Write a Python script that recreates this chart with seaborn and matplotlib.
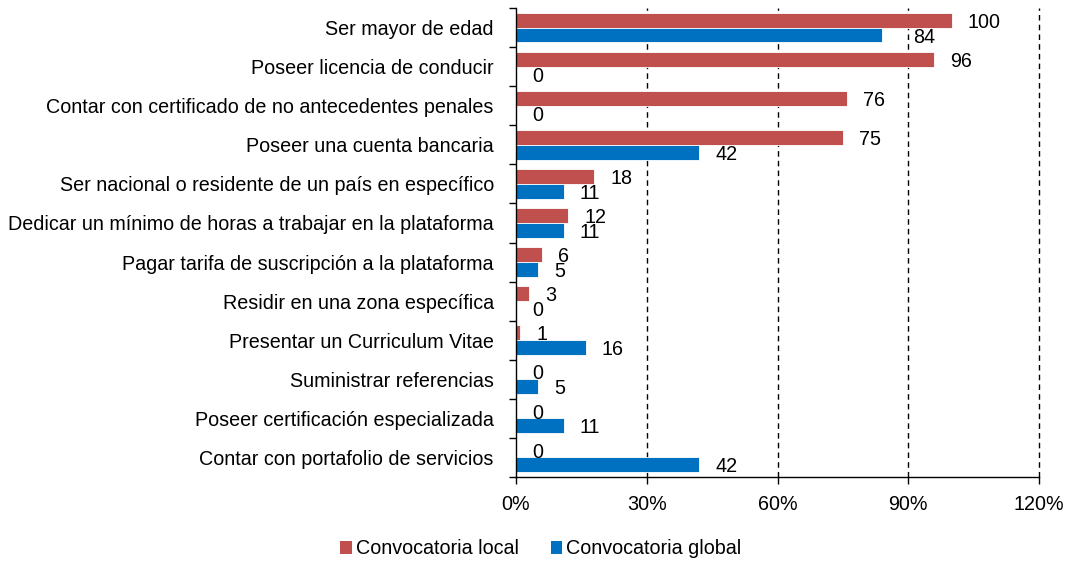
import matplotlib
matplotlib.use("Agg")
import matplotlib.pyplot as plt
from matplotlib.patches import Patch
from matplotlib.ticker import FuncFormatter, FixedLocator
import seaborn as sns
import pandas as pd

categories = [
    "Ser mayor de edad",
    "Poseer licencia de conducir",
    "Contar con certificado de no antecedentes penales",
    "Poseer una cuenta bancaria",
    "Ser nacional o residente de un país en específico",
    "Dedicar un mínimo de horas a trabajar en la plataforma",
    "Pagar tarifa de suscripción a la plataforma",
    "Residir en una zona específica",
    "Presentar un Curriculum Vitae",
    "Suministrar referencias",
    "Poseer certificación especializada",
    "Contar con portafolio de servicios",
]
local_vals = [100, 96, 76, 75, 18, 12, 6, 3, 1, 0, 0, 0]
global_vals = [84, 0, 0, 42, 11, 11, 5, 0, 16, 5, 11, 42]
series_names = ["Convocatoria local", "Convocatoria global"]
x_ticks = [0, 30, 60, 90, 120]

RED = "#C0504D"
BLUE = "#0070C0"

df = pd.DataFrame({
    "Requisito": categories * 2,
    "Valor": local_vals + global_vals,
    "Serie": [series_names[0]] * len(categories) + [series_names[1]] * len(categories),
})

sns.set_theme(style="white")
plt.rcParams["font.family"] = ["Liberation Sans", "DejaVu Sans"]
plt.rcParams["text.color"] = "black"
plt.rcParams["xtick.color"] = "black"
plt.rcParams["ytick.color"] = "black"
FS = 14.2

W, H = 1067, 565
fig = plt.figure(figsize=(W / 100, H / 100), dpi=100)
ax = fig.add_axes([516 / W, 1 - 477 / H, (1039 - 516) / W, (477 - 8) / H])

sns.barplot(data=df, y="Requisito", x="Valor", hue="Serie", orient="h",
            palette=[RED, BLUE], width=0.76, ax=ax, legend=False,
            edgecolor="white", linewidth=0.6, saturation=1)

ax.set_xlim(0, 120)
ax.set_ylim(len(categories) - 0.5, -0.5)
ax.set_xlabel("")
ax.set_ylabel("")

# data labels (label of first global bar sits a bit further right, as in the source)
extra_dx = {(1, 0): 11}
for si, cont in enumerate(ax.containers):
    for bi, bar in enumerate(cont):
        v = bar.get_width()
        y = bar.get_y() + bar.get_height() / 2
        ax.annotate(f"{v:.0f}", xy=(v, y), xytext=(11.5 + extra_dx.get((si, bi), 0), -1.5),
                    textcoords="offset points", ha="left", va="center",
                    fontsize=FS, color="black")

# axes styling
ax.xaxis.set_major_locator(FixedLocator(x_ticks))
ax.xaxis.set_major_formatter(FuncFormatter(lambda v, p: f"{v:.0f}%"))
ax.tick_params(axis="x", which="major", direction="out", length=5, width=1,
               color="black", labelcolor="black", labelsize=FS, pad=8, bottom=True)
ax.set_yticks(range(len(categories)))
ax.set_yticklabels(categories)
ax.tick_params(axis="y", which="major", length=0, labelsize=FS, labelcolor="black", pad=16)
ax.set_yticks([i - 0.5 for i in range(len(categories) + 1)], minor=True)
ax.tick_params(axis="y", which="minor", direction="out", length=5, width=1,
               color="black", left=True)

for s in ["top", "right"]:
    ax.spines[s].set_visible(False)
for s in ["left", "bottom"]:
    ax.spines[s].set_color("black")
    ax.spines[s].set_linewidth(1)

for t in x_ticks[1:]:
    ax.axvline(t, color="black", linestyle=(0, (4, 3)), linewidth=1, zorder=0, clip_on=False)

handles = [Patch(facecolor=RED, edgecolor="none"), Patch(facecolor=BLUE, edgecolor="none")]
fig.legend(handles, series_names, loc="center", bbox_to_anchor=(541 / W, 1 - 549 / H),
           ncol=2, frameon=False, fontsize=FS, handlelength=0.6, handleheight=0.6,
           handletextpad=0.2, columnspacing=1.6)

fig.savefig("out.png", dpi=100)
